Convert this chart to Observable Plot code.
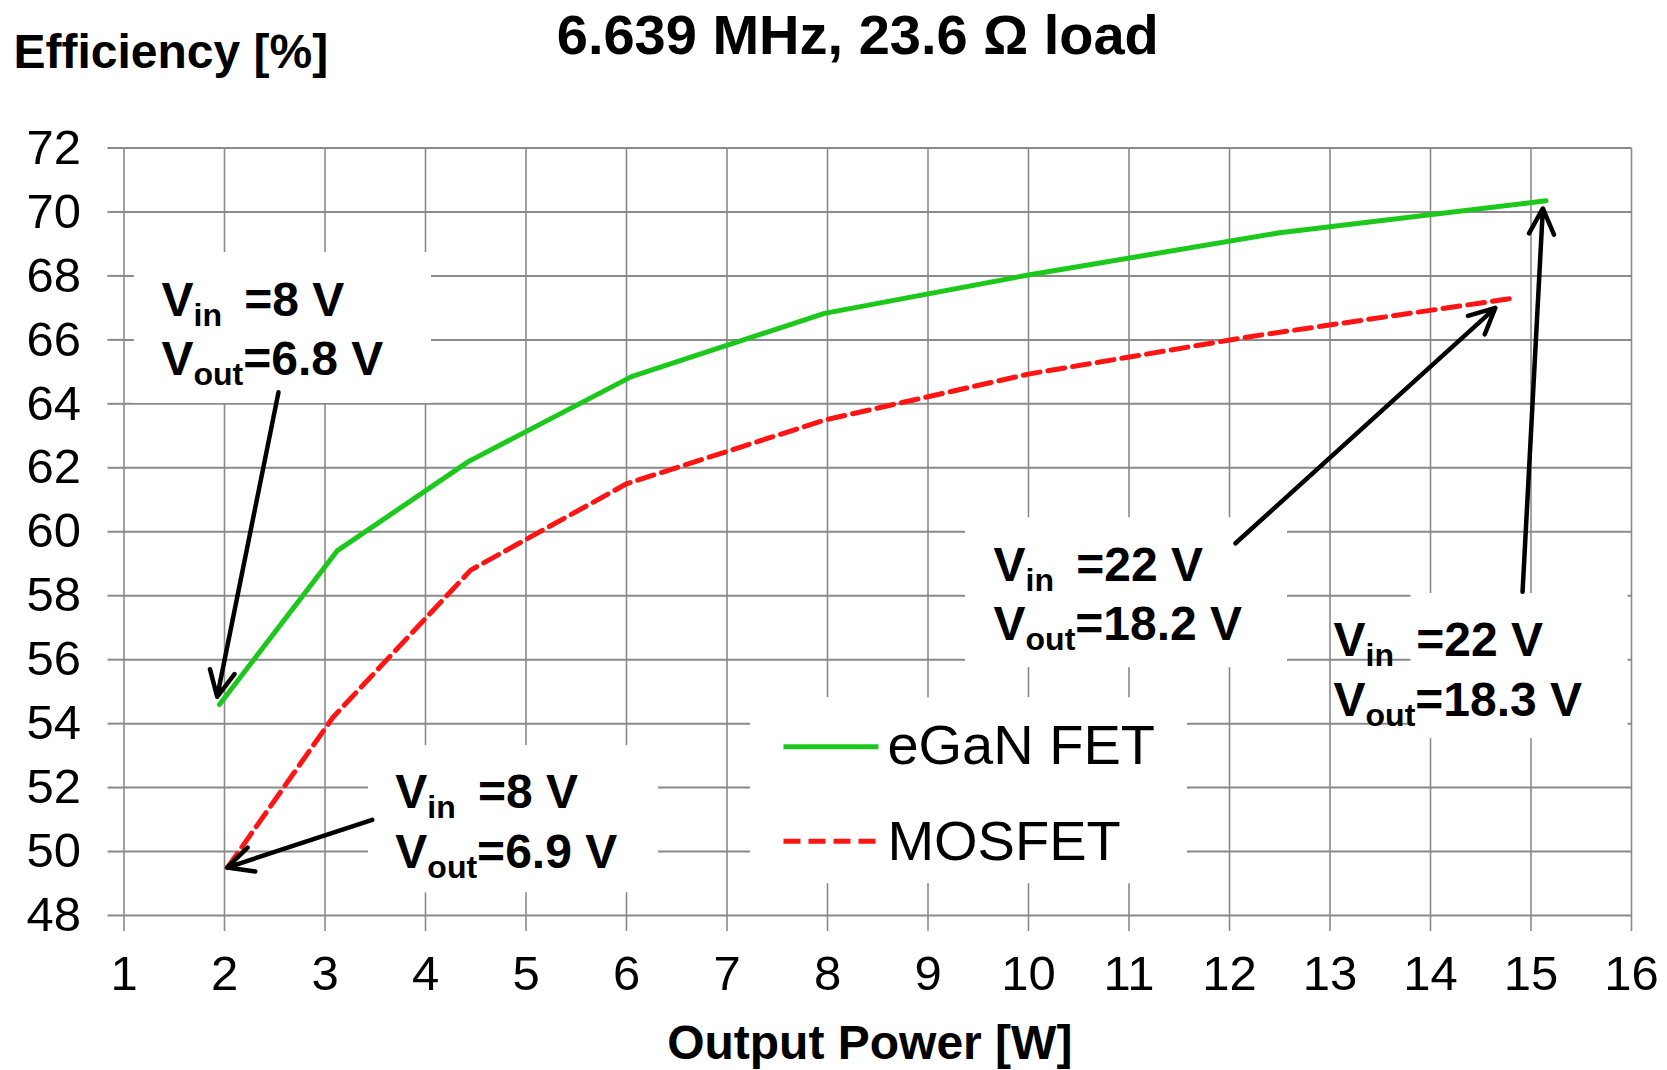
<!DOCTYPE html>
<html>
<head>
<meta charset="utf-8">
<script src="https://cdn.jsdelivr.net/npm/d3@7"></script>
<script src="https://cdn.jsdelivr.net/npm/@observablehq/plot@0.6"></script>
<style>
  html, body { margin: 0; padding: 0; background: #ffffff; }
  #chart svg { display: block; }
</style>
</head>
<body>
<div id="chart"></div>
<script>
// ---- series data ----
const powerGaN = [1.95, 3.12, 4.43, 6.05, 7.97, 10.0, 12.5, 15.15];
const effGaN   = [54.6, 59.4, 62.2, 64.85, 66.83, 68.03, 69.35, 70.35];
const powerMOS = [2.03, 3.08, 4.45, 6.0, 7.98, 10.0, 12.2, 14.82];
const effMOS   = [49.5, 54.2, 58.8, 61.5, 63.5, 64.93, 66.1, 67.3];
const seriesNames = ["eGaN FET", "MOSFET"];

// ---- axes ----
const xTicks = d3.range(1, 17);
const yTicks = d3.range(48, 73, 2);
const titleText = "6.639 MHz, 23.6 \u03A9 load";
const yLabelText = "Efficiency [%]";
const xLabelText = "Output Power [W]";

// ---- annotations (base|subscript|rest), anchored in data units ----
const noteLines = [
  "V|in\u00a0|\u00a0=8 V",  "V|out|=6.8 V",
  "V|in\u00a0|\u00a0=8 V",  "V|out|=6.9 V",
  "V|in\u00a0|\u00a0=22 V", "V|out|=18.2 V",
  "V|in\u00a0|\u00a0=22 V", "V|out|=18.3 V"
];
const noteX = [1.373, 1.373, 3.70, 3.70, 9.652, 9.652, 13.035, 13.035];
const noteY = [66.76, 64.90, 51.37, 49.50, 58.47, 56.60, 56.13, 54.25];

// white label backgrounds (data units)
const boxX1 = [1.104, 3.433, 9.373, 13.806, 7.234];
const boxX2 = [4.06, 6.318, 12.577, 15.965, 11.582];
const boxY1 = [64.01, 48.71, 55.75, 53.53, 48.99];
const boxY2 = [68.73, 53.31, 60.44, 58.07, 54.81];

// arrows (data units)
const arrowFromX = [2.537, 3.47, 12.06, 14.916];
const arrowFromY = [64.36, 50.99, 59.64, 58.12];
const arrowToX   = [1.927, 2.026, 14.645, 15.118];
const arrowToY   = [54.84, 49.5, 67.0, 70.11];

// legend (data units)
const legendX1 = [7.562, 7.562];
const legendX2 = [8.507, 8.507];
const legendLineY = [53.28, 50.32];
const legendTextX = [8.596, 8.596];
const legendTextY = [52.75, 49.72];

const green = "#1cc81c";
const red = "#ff1414";
const grid = "#8a8a8a";
const font = "'Liberation Sans', Arial, sans-serif";

const svg = Plot.plot({
  width: 1667,
  height: 1070,
  marginLeft: 123.5,
  marginRight: 36,
  marginTop: 147.5,
  marginBottom: 155,
  style: { fontFamily: font, background: "#ffffff", color: "#000" },
  x: { domain: [1, 16] },
  y: { domain: [48, 72] },
  marks: [
    Plot.gridY(yTicks, { stroke: grid, strokeOpacity: 1, strokeWidth: 2 }),
    Plot.gridX(xTicks, { stroke: grid, strokeOpacity: 1, strokeWidth: 1.6 }),
    Plot.rect(d3.range(boxX1.length), {
      x1: i => boxX1[i], x2: i => boxX2[i], y1: i => boxY1[i], y2: i => boxY2[i],
      fill: "#ffffff"
    }),
    Plot.axisY(yTicks, {
      tickSize: 16, tickPadding: 27, fontSize: 49, stroke: grid, strokeWidth: 2,
      color: "#000", label: null, tickFormat: d => String(d)
    }),
    Plot.axisX(xTicks, {
      tickSize: 16, tickPadding: 24, fontSize: 49, stroke: grid, strokeWidth: 1.6,
      color: "#000", label: null, tickFormat: d => String(d)
    }),
    Plot.line(effGaN, { x: powerGaN, y: effGaN, stroke: green, strokeWidth: 5 }),
    Plot.line(effMOS, { x: powerMOS, y: effMOS, stroke: red, strokeWidth: 5, strokeDasharray: "17,8" }),
    Plot.arrow(arrowFromX, {
      x1: arrowFromX, y1: arrowFromY, x2: arrowToX, y2: arrowToY,
      stroke: "#000", strokeWidth: 4.5, headLength: 9.5, headAngle: 52
    }),
    Plot.text(noteLines, {
      x: noteX, y: noteY, text: d => d, textAnchor: "start", lineAnchor: "bottom",
      fontSize: 48, fontWeight: "bold", fill: "#000"
    }),
    // legend
    Plot.link([0], {
      x1: () => legendX1[0], x2: () => legendX2[0], y1: () => legendLineY[0], y2: () => legendLineY[0],
      stroke: green, strokeWidth: 5 }),
    Plot.link([1], {
      x1: () => legendX1[1], x2: () => legendX2[1], y1: () => legendLineY[1], y2: () => legendLineY[1],
      stroke: red, strokeWidth: 5, strokeDasharray: "17,8" }),
    Plot.text(seriesNames, {
      x: legendTextX, y: legendTextY, text: d => d, textAnchor: "start", lineAnchor: "bottom",
      fontSize: 56, fill: "#000"
    }),
    // titles
    Plot.text([titleText], { frameAnchor: "top", dx: -20, dy: -94.5, lineAnchor: "bottom",
      fontSize: 56, fontWeight: "bold", fill: "#000" }),
    Plot.text([yLabelText], { frameAnchor: "top-left", dx: -110.5, dy: -80.5, textAnchor: "start",
      lineAnchor: "bottom", fontSize: 48, fontWeight: "bold", fill: "#000" }),
    Plot.text([xLabelText], { frameAnchor: "bottom", dx: -8, dy: 143, lineAnchor: "bottom",
      fontSize: 48, fontWeight: "bold", fill: "#000" })
  ]
});

// subscripts for V_in / V_out
d3.select(svg).selectAll("text").each(function () {
  const t = this.textContent;
  if (!t.includes("|")) return;
  const [a, b, c] = t.split("|");
  const sel = d3.select(this);
  sel.text(null);
  sel.append("tspan").text(a);
  sel.append("tspan").attr("font-size", 32).attr("dy", 10).text(b);
  sel.append("tspan").attr("dy", -10).text(c);
});

document.getElementById("chart").appendChild(svg);
</script>
</body>
</html>
